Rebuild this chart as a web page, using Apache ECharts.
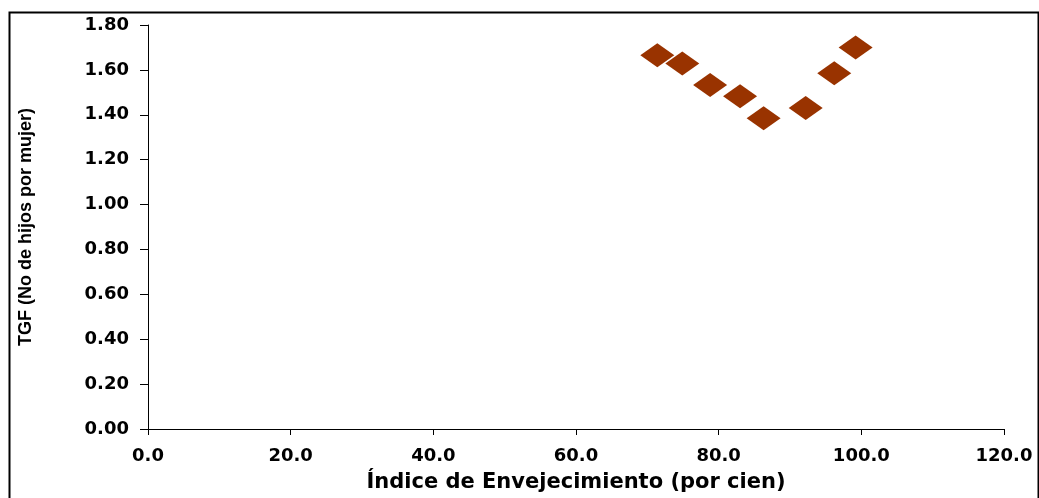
<!DOCTYPE html>
<html><head><meta charset="utf-8">
<script src="https://cdn.jsdelivr.net/npm/echarts@6/dist/echarts.min.js"></script>
<style>html,body{margin:0;padding:0;background:#fff}#c{width:1039px;height:498px}</style>
</head><body><div id="c"></div>
<script>
const indiceEnvejecimiento = [71.4, 74.9, 78.8, 83.0, 86.3, 92.2, 96.2, 99.2];
const tgf = [1.665, 1.628, 1.533, 1.483, 1.384, 1.430, 1.585, 1.700];
const xName = 'Índice de Envejecimiento (por cien)';
const yName = 'TGF (No de hijos por mujer)';

const chart = echarts.init(document.getElementById('c'));
chart.setOption({
  animation: false,
  backgroundColor: '#fff',
  graphic: [{
    type: 'rect', left: 7, top: 10, z: -1,
    shape: { width: 1029, height: 500 },
    style: { fill: 'none', stroke: '#000', lineWidth: 2 }
  }],
  grid: { left: 148, right: 35, top: 25, bottom: 68 },
  xAxis: {
    type: 'value', min: 0, max: 120, interval: 20,
    name: xName, nameLocation: 'middle', nameGap: 43,
    nameTextStyle: { fontFamily: 'DejaVu Sans', fontWeight: 'bold', fontSize: 21, color: '#000' },
    axisLine: { lineStyle: { color: '#000', width: 1 } },
    axisTick: { show: true, length: 6, lineStyle: { color: '#000' } },
    splitLine: { show: false },
    axisLabel: { color: '#000', fontFamily: 'DejaVu Sans', fontWeight: 'bold', fontSize: 18, margin: 18,
      formatter: v => v.toFixed(1) }
  },
  yAxis: {
    type: 'value', min: 0, max: 1.8, interval: 0.2,
    name: yName, nameLocation: 'middle', nameGap: 113, nameRotate: 90,
    nameTextStyle: { fontFamily: 'Liberation Sans', fontWeight: 'bold', fontSize: 18, color: '#000' },
    axisLine: { show: true, lineStyle: { color: '#000', width: 1 } },
    axisTick: { show: true, length: 8, lineStyle: { color: '#000' } },
    splitLine: { show: false },
    axisLabel: { color: '#000', fontFamily: 'DejaVu Sans', fontWeight: 'bold', fontSize: 18, margin: 19,
      formatter: v => v.toFixed(2) }
  },
  series: [{
    type: 'scatter',
    symbol: 'diamond',
    symbolSize: [34, 24],
    itemStyle: { color: '#993300', opacity: 1 },
    data: indiceEnvejecimiento.map((x, i) => [x, tgf[i]])
  }]
});
</script></body></html>
